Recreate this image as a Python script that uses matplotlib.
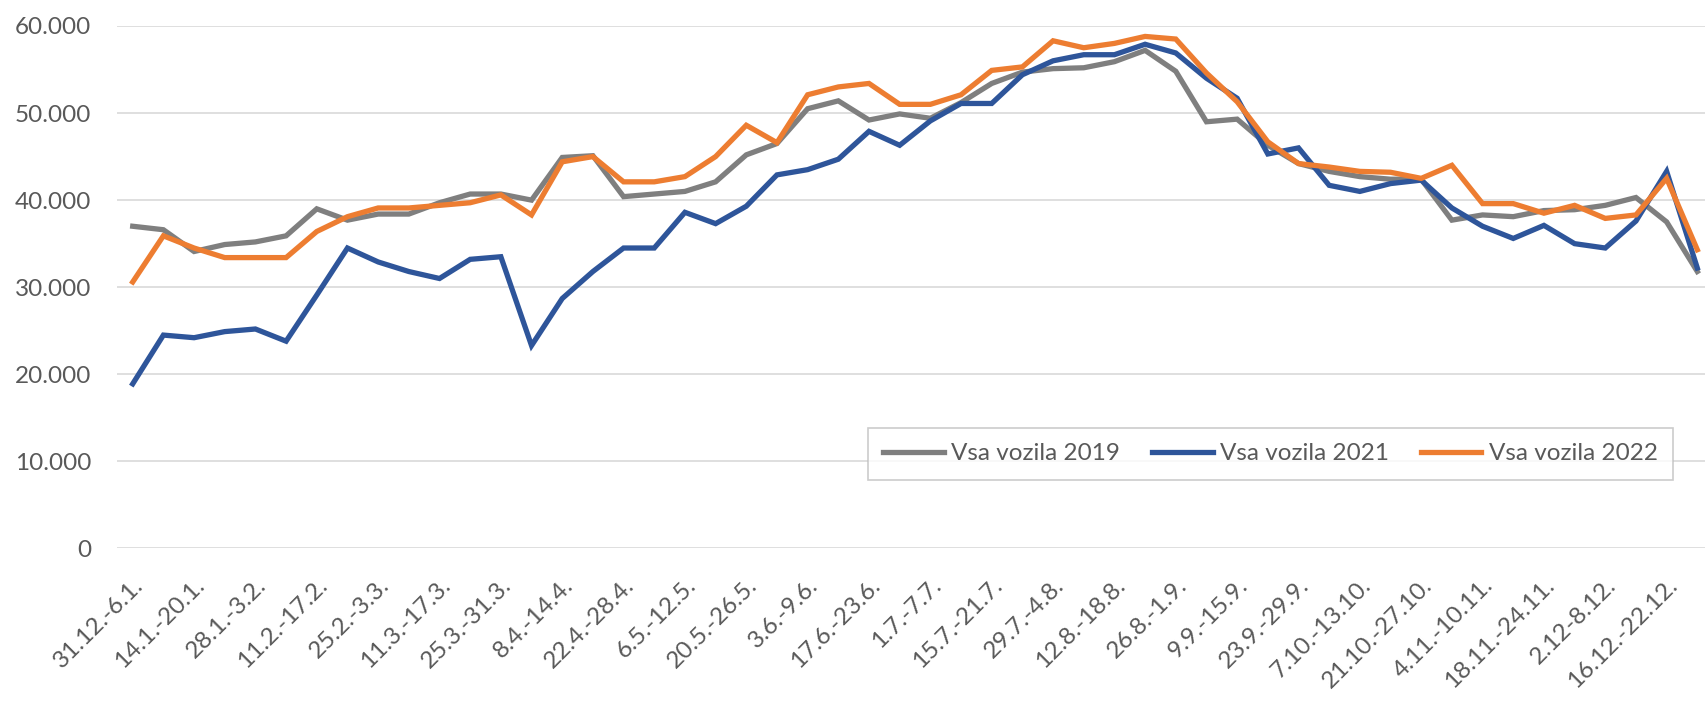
import matplotlib
matplotlib.use("Agg")
import matplotlib.pyplot as plt
from matplotlib.ticker import FuncFormatter

# weekly periods (only every second one is labelled on the axis)
weeks = [
    "31.12.-6.1.", "7.1.-13.1.", "14.1.-20.1.", "21.1.-27.1.", "28.1.-3.2.",
    "4.2.-10.2.", "11.2.-17.2.", "18.2.-24.2.", "25.2.-3.3.", "4.3.-10.3.",
    "11.3.-17.3.", "18.3.-24.3.", "25.3.-31.3.", "1.4.-7.4.", "8.4.-14.4.",
    "15.4.-21.4.", "22.4.-28.4.", "29.4.-5.5.", "6.5.-12.5.", "13.5.-19.5.",
    "20.5.-26.5.", "27.5.-2.6.", "3.6.-9.6.", "10.6.-16.6.", "17.6.-23.6.",
    "24.6.-30.6.", "1.7.-7.7.", "8.7.-14.7.", "15.7.-21.7.", "22.7.-28.7.",
    "29.7.-4.8.", "5.8.-11.8.", "12.8.-18.8.", "19.8.-25.8.", "26.8.-1.9.",
    "2.9.-8.9.", "9.9.-15.9.", "16.9.-22.9.", "23.9.-29.9.", "30.9.-6.10.",
    "7.10.-13.10.", "14.10.-20.10.", "21.10.-27.10.", "28.10.-3.11.", "4.11.-10.11.",
    "11.11.-17.11.", "18.11.-24.11.", "25.11.-1.12.", "2.12-8.12.", "9.12.-15.12.",
    "16.12.-22.12.", "23.12.-29.12.",
]

vozila_2019 = [
    37000, 36600, 34100, 34900, 35200, 35900, 39000, 37700, 38400, 38400,
    39700, 40700, 40700, 40000, 44900, 45100, 40400, 40700, 41000, 42100,
    45200, 46500, 50500, 51400, 49200, 49900, 49400, 51200, 53400, 54700,
    55100, 55200, 55900, 57200, 54800, 49000, 49300, 46300, 44200, 43300,
    42700, 42400, 42400, 37700, 38300, 38100, 38800, 38900, 39400, 40300,
    37500, 31800,
]

vozila_2021 = [
    18900, 24500, 24200, 24900, 25200, 23800, 29100, 34500, 32900, 31800,
    31000, 33200, 33500, 23300, 28700, 31800, 34500, 34500, 38600, 37300,
    39300, 42900, 43500, 44700, 47900, 46300, 49100, 51100, 51100, 54400,
    56000, 56700, 56700, 57900, 56900, 54000, 51700, 45300, 46000, 41700,
    41000, 41900, 42300, 39100, 37000, 35600, 37100, 35000, 34500, 37600,
    43300, 32200,
]

vozila_2022 = [
    30600, 35900, 34500, 33400, 33400, 33400, 36400, 38100, 39100, 39100,
    39400, 39700, 40600, 38300, 44400, 45000, 42100, 42100, 42700, 45000,
    48600, 46600, 52100, 53000, 53400, 51000, 51000, 52100, 54900, 55300,
    58300, 57500, 58000, 58800, 58500, 54600, 51300, 46700, 44200, 43800,
    43300, 43200, 42500, 44000, 39600, 39600, 38500, 39400, 37900, 38300,
    42500, 34300,
]

series = [
    ("Vsa vozila 2019", vozila_2019, "#7f7f7f"),
    ("Vsa vozila 2021", vozila_2021, "#2e559a"),
    ("Vsa vozila 2022", vozila_2022, "#ed7d31"),
]

plt.rcParams["font.family"] = ["Lato", "DejaVu Sans"]
text_col = "#595959"

fig = plt.figure(figsize=(17.06, 7.06), dpi=100)
ax = fig.add_axes([0.0688, 0.2232, 0.9351, 0.74])

x = list(range(len(weeks)))
for name, vals, col in series:
    ax.plot(x, vals, color=col, lw=3.8, label=name, solid_joinstyle="miter")

ax.set_ylim(0, 60000)
ax.set_xlim(-0.5, len(weeks) - 0.5)
ax.set_yticks(range(0, 60001, 10000))
ax.yaxis.set_major_formatter(FuncFormatter(lambda v, p: f"{int(v):,}".replace(",", ".")))
ax.grid(axis="y", color="#d9d9d9", lw=1.2)
ax.set_axisbelow(True)

ax.set_xticks(x[::2])
ax.set_xticklabels(weeks[::2], rotation=45, ha="right", va="top",
                   rotation_mode="anchor")
ax.tick_params(axis="both", length=0, labelsize=17.5, labelcolor=text_col)
ax.tick_params(axis="y", pad=19)
ax.tick_params(axis="x", pad=19)

for s in ax.spines.values():
    s.set_visible(False)

leg = fig.legend(loc="center", bbox_to_anchor=(0.7447, 0.357), ncol=3,
                 frameon=True, fancybox=False, fontsize=17.5,
                 handlelength=2.5, handletextpad=0.3, columnspacing=1.3,
                 borderpad=0.62)
leg.get_frame().set_edgecolor("#bfbfbf")
leg.get_frame().set_linewidth(1.2)
for t in leg.get_texts():
    t.set_color(text_col)

fig.savefig("out.png", dpi=100)
